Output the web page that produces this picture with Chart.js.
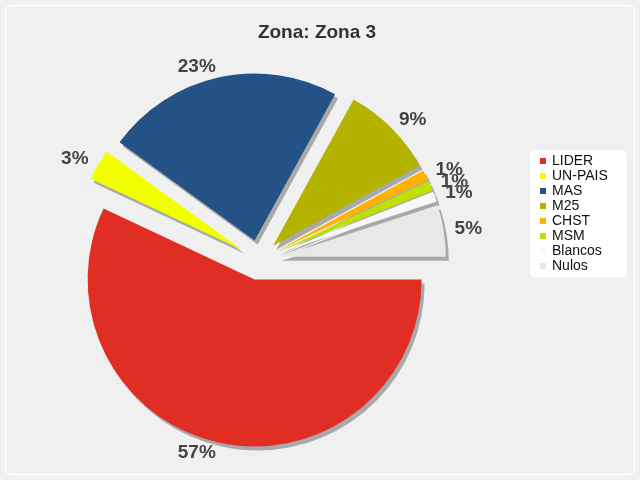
<!DOCTYPE html>
<html>
<head>
<meta charset="utf-8">
<script src="https://cdn.jsdelivr.net/npm/chart.js@4"></script>
<style>
  body { margin: 0; background: #f0f0f0; }
  #wrap { width: 640px; height: 480px; }
</style>
</head>
<body>
<div id="wrap"><canvas id="zona-chart" width="640" height="480"></canvas></div>
<script>
const chartTitle = "Zona: Zona 3";
const partidos = ["LIDER", "UN-PAIS", "MAS", "M25", "CHST", "MSM", "Blancos", "Nulos"];
const porcentajes = [57, 3, 23, 9, 1, 1, 1, 5];
const colores = ["#e02e24", "#f2ff00", "#245287", "#b3b300", "#ffb300", "#bfe000", "#f8f8f8", "#e8e8e8"];

const EXPLODE = 20;
const font = "'Liberation Sans', Arial, sans-serif";

// background panel + title
const fondo = {
  id: "fondo",
  beforeDraw(chart) {
    const c = chart.ctx;
    c.save();
    c.fillStyle = "#f0f0f0";
    c.fillRect(0, 0, chart.width, chart.height);
    c.strokeStyle = "#ffffff";
    c.lineWidth = 1.5;
    c.beginPath();
    c.roundRect(5.5, 5.5, 629, 469, 6);
    c.stroke();
    c.fillStyle = "#333";
    c.font = "bold 19px " + font;
    c.textAlign = "center";
    c.textBaseline = "middle";
    c.fillText(chartTitle, 317, 33);
    c.restore();
  },
};

// draw each slice pushed out from the centre, with a flat shadow
const explotar = {
  id: "explotar",
  beforeDatasetDraw(chart, args) {
    const c = chart.ctx;
    args.meta.data.forEach((arc) => {
      const mid = (arc.startAngle + arc.endAngle) / 2;
      c.save();
      c.translate(Math.cos(mid) * EXPLODE, Math.sin(mid) * EXPLODE);
      c.shadowColor = "#a9a9a9";
      c.shadowBlur = 0;
      c.shadowOffsetX = 3;
      c.shadowOffsetY = 4;
      arc.draw(c);
      c.restore();
    });
    return false;
  },
  afterDatasetsDraw(chart) {
    const c = chart.ctx;
    const arcs = chart.getDatasetMeta(0).data;
    c.save();
    c.fillStyle = "#444";
    c.font = "bold 19px " + font;
    c.textBaseline = "middle";
    arcs.forEach((arc, i) => {
      const mid = (arc.startAngle + arc.endAngle) / 2;
      const r = arc.outerRadius + 11 + EXPLODE;
      const x = arc.x + Math.cos(mid) * r;
      const y = arc.y + Math.sin(mid) * r;
      c.textAlign = Math.cos(mid) >= 0 ? "left" : "right";
      c.fillText(porcentajes[i] + "%", x, y);
    });
    c.restore();
  },
};

// legend box on the right
const leyenda = {
  id: "leyenda",
  afterDraw(chart) {
    const c = chart.ctx;
    c.save();
    c.fillStyle = "#ffffff";
    c.beginPath();
    c.roundRect(530, 150, 97, 127, 5);
    c.fill();
    c.font = "14px " + font;
    c.textBaseline = "middle";
    c.textAlign = "left";
    partidos.forEach((p, i) => {
      const y = 161 + i * 15;
      c.fillStyle = colores[i];
      c.fillRect(540, y - 3, 6, 6);
      c.fillStyle = "#111";
      c.fillText(p, 552, y);
    });
    c.restore();
  },
};

new Chart(document.getElementById("zona-chart"), {
  type: "pie",
  data: {
    labels: partidos,
    datasets: [
      {
        data: porcentajes,
        backgroundColor: colores,
        borderWidth: 0,
        clip: false,
      },
    ],
  },
  options: {
    responsive: false,
    animation: false,
    events: [],
    rotation: 90,
    radius: 167,
    layout: {
      padding: { left: 10, right: 132, top: 50, bottom: 10 },
    },
    plugins: {
      legend: { display: false },
      tooltip: { enabled: false },
      title: { display: false },
    },
  },
  plugins: [fondo, explotar, leyenda],
});
</script>
</body>
</html>
